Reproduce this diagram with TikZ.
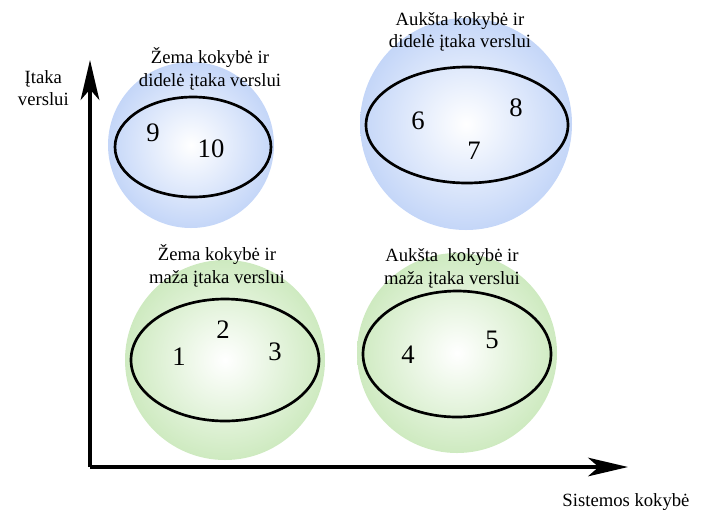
\documentclass[tikz,border=0pt]{standalone}
\usepackage{fontspec}
\setmainfont{Liberation Serif}
\usepackage{xcolor}
\usetikzlibrary{arrows.meta}
\usetikzlibrary{math}

\definecolor{melyna}{RGB}{196,214,248}
\definecolor{zalia}{RGB}{206,234,192}

\tikzset{
  ashis/.style={-{Stealth[length=30pt,width=14pt,inset=8pt]}, line width=2.3pt},
  zona/.style={line width=2pt},
  antraste/.style={align=center, font=\fontsize{14}{17}\selectfont, inner sep=0pt},
  skaicius/.style={font=\fontsize{20}{24}\selectfont, inner sep=0pt},
}

\begin{document}
\begin{tikzpicture}[x=0.75pt, y=-0.75pt]
\useasboundingbox (0,0) rectangle (706,512);

\coordinate (O) at (90,467);
\coordinate (Yg) at (90,60);
\coordinate (Xg) at (628,467);

% kvadrantu fonai
\shade[inner color=white, outer color=melyna] (191,145) circle(83);
\shade[inner color=white, outer color=melyna] (466,124) circle(106);
\shade[inner color=white, outer color=zalia] (225,360) circle(100);
\shade[inner color=white, outer color=zalia] (457,353) circle(100);

% elipses
\draw[zona] (193,147) ellipse(78 and 50);
\draw[zona] (467,125) ellipse(101 and 58);
\draw[zona] (225,360) ellipse(94 and 61);
\draw[zona] (457,354) ellipse(94 and 63);

% asys
\draw[ashis] (O) -- (Yg);
\draw[ashis] (O) -- (Xg);

\node[antraste, anchor=east] (yl) at (69,88) {Įtaka\\verslui};
\node[antraste] (xl) at (626,502) {Sistemos kokybė};

\node[antraste] (zd) at (210,69) {Žema kokybė ir\\didelė įtaka verslui};
\node[antraste] (ad) at (460,32) {Aukšta kokybė ir\\didelė įtaka verslui};
\node[antraste] (zm) at (217,266) {Žema kokybė ir\\maža įtaka verslui};
\node[antraste] (am) at (452,268) {Aukšta\ \ kokybė ir\\maža įtaka verslui};

% skaiciai
\node[skaicius] (n9) at (153,133) {9};
\node[skaicius] (n10) at (211,149) {10};
\node[skaicius] (n6) at (418,121) {6};
\node[skaicius] (n8) at (516,108) {8};
\node[skaicius] (n7) at (474,151) {7};
\node[skaicius] (n1) at (179,357) {1};
\node[skaicius] (n2) at (223,330) {2};
\node[skaicius] (n3) at (275,352) {3};
\node[skaicius] (n4) at (408,355) {4};
\node[skaicius] (n5) at (492,340) {5};
\end{tikzpicture}
\end{document}
